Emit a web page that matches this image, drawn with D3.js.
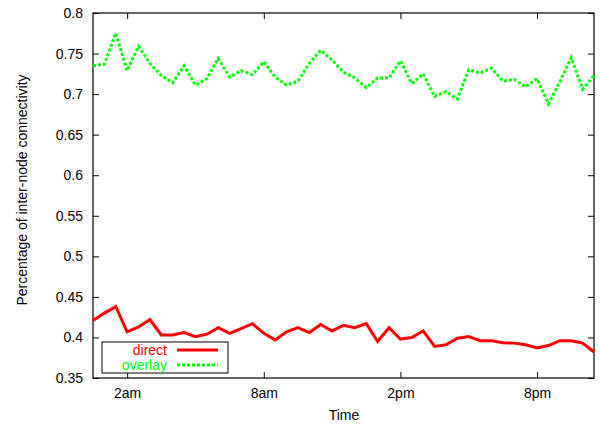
<!DOCTYPE html>
<html>
<head>
<meta charset="utf-8">
<script src="https://cdn.jsdelivr.net/npm/d3@7"></script>
<style>
  body { margin: 0; background: #fff; }
  svg { font-family: "Liberation Sans", Arial, sans-serif; }
</style>
</head>
<body>
<div id="chart"></div>
<script>
// readings every half hour, first sample at 0:30
const startHour = 0.5;
const stepHour = 0.5;

const direct = [0.421, 0.430, 0.438, 0.407, 0.413, 0.422, 0.403, 0.403, 0.406, 0.401,
  0.404, 0.412, 0.405, 0.411, 0.417, 0.405, 0.397, 0.407, 0.412, 0.406,
  0.416, 0.408, 0.415, 0.412, 0.417, 0.395, 0.412, 0.398, 0.400, 0.408,
  0.389, 0.391, 0.399, 0.401, 0.396, 0.396, 0.3935, 0.393, 0.391, 0.387,
  0.390, 0.396, 0.396, 0.393, 0.382];

const overlay = [0.735, 0.737, 0.775, 0.729, 0.759, 0.738, 0.723, 0.714, 0.735, 0.711,
  0.719, 0.744, 0.721, 0.729, 0.724, 0.740, 0.721, 0.711, 0.716, 0.738,
  0.754, 0.742, 0.727, 0.720, 0.708, 0.720, 0.720, 0.741, 0.713, 0.725,
  0.697, 0.703, 0.694, 0.730, 0.726, 0.732, 0.716, 0.718, 0.709, 0.719,
  0.688, 0.715, 0.745, 0.706, 0.723];

const xTickHours = [2, 8, 14, 20];
const xTickLabels = ["2am", "8am", "2pm", "8pm"];
const yTicks = [0.35, 0.4, 0.45, 0.5, 0.55, 0.6, 0.65, 0.7, 0.75, 0.8];

(function(){
  const svgWidth = 600, svgHeight = 428;
  const margin = {top: 13, right: 6, bottom: 50, left: 93};
  const width = svgWidth - margin.left - margin.right;
  const height = svgHeight - margin.top - margin.bottom;

  const svg = d3.select("#chart").append("svg")
    .attr("width", svgWidth).attr("height", svgHeight);

  const g = svg.append("g").attr("transform", `translate(${margin.left},${margin.top})`);

  const x = d3.scaleLinear().domain([0.5, 22.5]).range([0, width]);
  const y = d3.scaleLinear().domain([0.35, 0.8]).range([height, 0]);

  const times = direct.map((d, i) => startHour + i * stepHour);

  // axes, ticks pointing inwards like gnuplot
  const xAxis = g.append("g").attr("transform", `translate(0,${height})`)
    .call(d3.axisBottom(x).tickValues(xTickHours)
      .tickFormat((d, i) => xTickLabels[i]).tickSizeInner(-6).tickSizeOuter(0).tickPadding(10));
  g.append("g")
    .call(d3.axisTop(x).tickValues(xTickHours).tickFormat("").tickSizeInner(-6).tickSizeOuter(0));
  g.append("g")
    .call(d3.axisLeft(y).tickValues(yTicks).tickFormat(d3.format("")).tickSizeInner(-6).tickSizeOuter(0).tickPadding(10));
  g.append("g").attr("transform", `translate(${width},0)`)
    .call(d3.axisRight(y).tickValues(yTicks).tickFormat("").tickSizeInner(-6).tickSizeOuter(0));

  g.selectAll(".domain").remove();
  g.selectAll(".tick line").attr("stroke", "#000");
  g.selectAll(".tick text").attr("font-size", 14).attr("fill", "#000")
    .attr("font-family", "Liberation Sans, Arial, sans-serif");

  g.append("rect").attr("width", width).attr("height", height)
    .attr("fill", "none").attr("stroke", "#000").attr("stroke-width", 1.2);

  const line = d3.line().x((d, i) => x(times[i])).y(d => y(d));

  g.append("path").datum(direct)
    .attr("d", line).attr("fill", "none")
    .attr("stroke", "#ff0000").attr("stroke-width", 3).attr("stroke-linejoin", "miter");

  g.append("path").datum(overlay)
    .attr("d", line).attr("fill", "none")
    .attr("stroke", "#00ff00").attr("stroke-width", 3).attr("stroke-dasharray", "3,2");

  // legend
  const lg = svg.append("g");
  lg.append("rect").attr("x", 102).attr("y", 342).attr("width", 126).attr("height", 31)
    .attr("fill", "#fff").attr("stroke", "#000").attr("stroke-width", 1);
  const items = [{name: "direct", color: "#ff0000", dash: null},
                 {name: "overlay", color: "#00ff00", dash: "3,2"}];
  items.forEach(function(it, i){
    const yy = 350 + i * 15;
    lg.append("text").attr("x", 167).attr("y", yy + 5)
      .attr("text-anchor", "end").attr("font-size", 14).attr("fill", it.color).text(it.name);
    lg.append("line").attr("x1", 177).attr("x2", 218).attr("y1", yy).attr("y2", yy)
      .attr("stroke", it.color).attr("stroke-width", 3).attr("stroke-dasharray", it.dash);
  });

  // axis titles
  svg.append("text").attr("x", 344).attr("y", 420).attr("text-anchor", "middle")
    .attr("font-size", 14).text("Time");
  svg.append("text").attr("transform", "translate(27,190) rotate(-90)")
    .attr("text-anchor", "middle").attr("font-size", 14)
    .text("Percentage of inter-node connectivity");
})();
</script>
</body>
</html>
